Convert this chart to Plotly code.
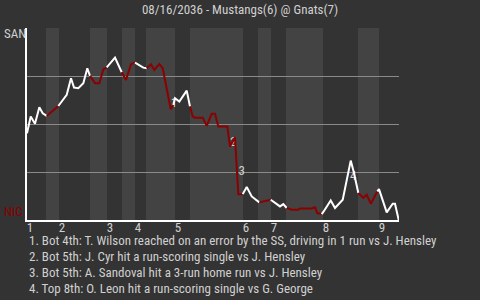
import plotly.graph_objects as go

# ---- data ----
title = "08/16/2036 - Mustangs(6) @ Gnats(7)"
away_team = "SAN"
home_team = "NIC"

# play index (x) and away win probability (y), grouped by half-inning
half_x = [
    [0, 0.93, 2, 3.08, 3.93, 4.93],                                   # Top 1
    [6.38, 7.83],                                                      # Bot 1
    [9.08, 9.93, 11, 11.75, 12.83, 14.08, 15.08, 15.75],               # Top 2
    [17, 18.08, 19.08, 19.93],                                         # Bot 2
    [22, 23.68],                                                       # Top 3
    [24.75, 26, 27],                                                   # Bot 3
    [28.25, 29.08, 29.93],                                             # Top 4
    [31, 31.83, 33.08, 33.93, 34.5, 35.33, 35.93, 36.58],              # Bot 4
    [37, 38.08, 39.93, 40.75],                                         # Top 5
    [41.43, 42, 43.93, 44.93, 46.18, 47, 47.83, 50.08, 50.75, 52,
     52.25, 52.58, 52.83, 53.93],                                      # Bot 5
    [54.93, 56.18, 57, 58.08],                                         # Top 6
    [59.08, 60.08, 60.93],                                             # Bot 6
    [62.43, 63.25, 64.08, 64.93],                                      # Top 7
    [66.18, 67.83, 68.25, 71.18, 72, 72.58, 73.68],                    # Bot 7
    [74.08, 75.93, 77, 78.93, 80.93, 81.75, 82.83],                    # Top 8
    [84.08, 84.93, 85.93, 87.58],                                      # Bot 8
    [88, 89.93, 91.43, 92, 92.93],                                     # Top 9
]
half_y = [
    [0.453, 0.540, 0.502, 0.589, 0.557, 0.543],
    [0.569, 0.595],
    [0.627, 0.653, 0.740, 0.691, 0.688, 0.714, 0.792, 0.752],
    [0.714, 0.714, 0.786, 0.797],
    [0.847, 0.771],
    [0.731, 0.8125, 0.821],
    [0.804, 0.795, 0.792],
    [0.8125, 0.783, 0.814, 0.792, 0.731, 0.627, 0.578, 0.600],
    [0.635, 0.618, 0.675, 0.592],
    [0.540, 0.534, 0.534, 0.491, 0.554, 0.554, 0.488, 0.488, 0.383, 0.432,
     0.357, 0.210, 0.135, 0.135],
    [0.172, 0.123, 0.109, 0.092],
    [0.097, 0.102, 0.106],
    [0.085, 0.071, 0.083, 0.0625],
    [0.054, 0.054, 0.060, 0.060, 0.066, 0.036, 0.031],
    [0.042, 0.102, 0.0625, 0.106, 0.310, 0.245, 0.141],
    [0.115, 0.132, 0.085, 0.149],
    [0.161, 0.040, 0.085, 0.085, 0.0],
]

# half-inning boundaries (play index) : top1, bot1, top2, ... , end
half_bounds = [0, 4.75, 8, 15.75, 20, 23.75, 27, 29.75, 37, 40.75, 54, 57.75,
               61, 64.75, 74, 82.75, 88, 93]
innings = ["1", "2", "3", "4", "5", "6", "7", "8", "9"]

# key plays
event_ids = ["1", "2", "3", "4"]
event_x = [36.75, 51.58, 53.68, 81.58]
event_y = [0.605, 0.403, 0.252, 0.226]
event_texts = [
    "1. Bot 4th: T. Wilson reached on an error by the SS, driving in 1 run vs J. Hensley",
    "2. Bot 5th: J. Cyr hit a run-scoring single vs J. Hensley",
    "3. Bot 5th: A. Sandoval hit a 3-run home run vs J. Hensley",
    "4. Top 8th: O. Leon hit a run-scoring single vs G. George",
]

# ---- style ----
FONT = "Roboto Condensed, Lato, sans-serif"
BG = "#333333"
BAND = "#434343"
AWAY_C = "#ffffff"
HOME_C = "#8b0000"
TXT = "#d0d0d0"

fig = go.Figure()

# labels for key plays (drawn beneath the line)
fig.add_trace(go.Scatter(
    x=event_x, y=event_y, mode="text", text=event_ids,
    textfont=dict(family=FONT, size=13, color=TXT),
    hoverinfo="skip", showlegend=False))

prev = None
for i, (xs, ys) in enumerate(zip(half_x, half_y)):
    px, py = list(xs), list(ys)
    if prev is not None:
        px = [prev[0]] + px
        py = [prev[1]] + py
    color = AWAY_C if i % 2 == 0 else HOME_C
    fig.add_trace(go.Scatter(
        x=px, y=py, mode="lines", line=dict(color=color, width=2),
        hoverinfo="skip", showlegend=False))
    prev = (xs[-1], ys[-1])

# shaded bottom-half bands
shapes = []
for i in range(1, len(half_bounds) - 1, 2):
    shapes.append(dict(type="rect", xref="x", yref="paper",
                       x0=half_bounds[i], x1=half_bounds[i + 1], y0=0, y1=1,
                       fillcolor=BAND, line=dict(width=0), layer="below"))

tickvals = [half_bounds[i] + 0.75 for i in range(0, len(half_bounds) - 1, 2)]

annotations = [
    dict(text=away_team, xref="paper", yref="paper", x=-0.067, y=0.970,
         xanchor="left", yanchor="middle", showarrow=False,
         font=dict(family=FONT, size=13, color=TXT)),
    dict(text=home_team, xref="paper", yref="paper", x=-0.067, y=0.043,
         xanchor="left", yanchor="middle", showarrow=False,
         font=dict(family=FONT, size=13, color=HOME_C)),
]
line_y = [-0.108, -0.191, -0.275, -0.358]
for t, yy in zip(event_texts, line_y):
    annotations.append(dict(text=t, xref="paper", yref="paper", x=0, y=yy,
                            xanchor="left", yanchor="middle", showarrow=False,
                            font=dict(family=FONT, size=13, color=TXT)))

fig.update_layout(
    width=480, height=300,
    margin=dict(l=27, r=81, t=28, b=80),
    paper_bgcolor=BG, plot_bgcolor=BG,
    title=dict(text=title, x=0.5, xref="container", xanchor="center",
               y=1 - 9 / 300, yref="container", yanchor="middle",
               font=dict(family=FONT, size=13, color=TXT)),
    font=dict(family=FONT, size=13, color=TXT),
    shapes=shapes, annotations=annotations,
    showlegend=False,
    xaxis=dict(range=[0, 93], tickvals=tickvals, ticktext=innings,
               showgrid=False, zeroline=False, showline=True,
               linecolor="#ffffff", linewidth=2, ticks="",
               ticklabelstandoff=-6,
               tickfont=dict(family=FONT, size=13, color=TXT)),
    yaxis=dict(range=[0, 1.002], dtick=0.25, showticklabels=False,
               showgrid=True, gridcolor="#8a8a8a", gridwidth=1,
               zeroline=False, showline=True, linecolor="#ffffff",
               linewidth=2, ticks=""),
)

fig.write_html("out.html")
